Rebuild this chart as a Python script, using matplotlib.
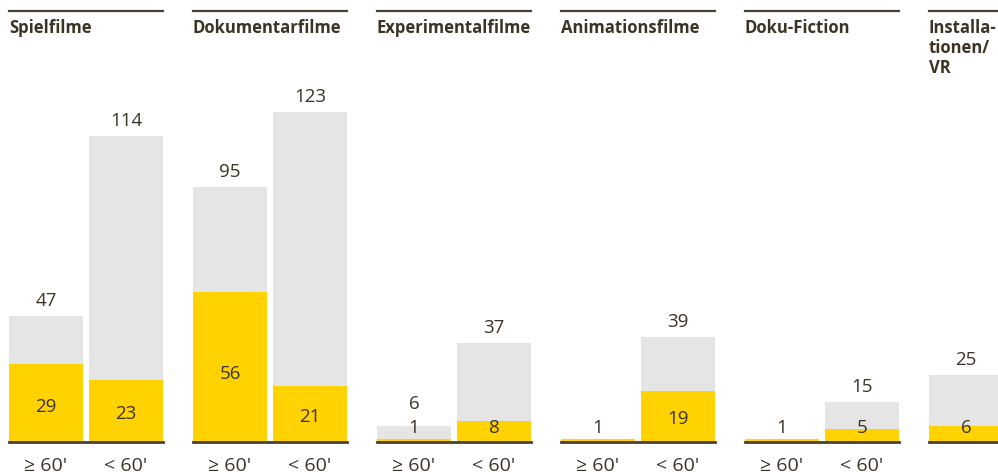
import matplotlib
matplotlib.use("Agg")
import matplotlib.pyplot as plt

categories = ["Spielfilme", "Dokumentarfilme", "Experimentalfilme",
              "Animationsfilme", "Doku-Fiction", "Installa-\ntionen/\nVR"]
tick_labels = ["≥ 60'", "< 60'"]
totals = [[47, 114], [95, 123], [6, 37], [1, 39], [1, 15], [25]]
highlighted = [[29, 23], [56, 21], [1, 8], [1, 19], [1, 5], [6]]

W, H, DPI = 998, 472, 100
GRAY = "#e5e5e5"
YELLOW = "#ffd200"
DARK = "#3b3424"
LINE = "#4a4030"
FONT = ["Open Sans", "DejaVu Sans"]

fig = plt.figure(figsize=(W / DPI, H / DPI), dpi=DPI)

base_px = 442
top_px = 11
ppu = 2.683  # pixels per unit
panel_w = 154
step = 184
ymax = (base_px - top_px) / ppu

for i, cat in enumerate(categories):
    left = 9 + step * i
    ax = fig.add_axes([left / W, (H - base_px) / H, panel_w / W, (base_px - top_px) / H])
    ax.set_xlim(0, 2)
    ax.set_ylim(0, ymax)
    bw = 74 / 77
    xs = [37 / 77, 117 / 77][:len(totals[i])]
    ax.bar(xs, totals[i], width=bw, color=GRAY, zorder=1)
    ax.bar(xs, highlighted[i], width=bw, color=YELLOW, zorder=2)
    for x, t, h in zip(xs, totals[i], highlighted[i]):
        ylab = max(0.45 * h, 14 / ppu)
        ax.text(x, ylab, str(h), ha="center", va="center", fontsize=13.5,
                color=DARK, family=FONT, zorder=3)
        if t != h:
            ytot = max(t + 15 / ppu, ylab + 24 / ppu)
            ax.text(x, ytot, str(t), ha="center", va="center", fontsize=13.5,
                    color=DARK, family=FONT, zorder=3)
    if i < 5:
        for x, lab in zip(xs, tick_labels):
            ax.text(x, -29 / ppu, lab, ha="center", va="baseline", fontsize=14,
                    color=DARK, family=FONT, clip_on=False)
    for k, line in enumerate(cat.split("\n")):
        ax.text(0, ymax - (22 + 20 * k) / ppu, line, ha="left", va="baseline",
                fontsize=12, fontweight="bold", color=DARK, family=FONT)
    for s in ["left", "right"]:
        ax.spines[s].set_visible(False)
    ax.spines["top"].set_color(LINE)
    ax.spines["top"].set_linewidth(1.6)
    ax.spines["bottom"].set_color(LINE)
    ax.spines["bottom"].set_linewidth(2)
    ax.spines["bottom"].set_zorder(5)
    ax.set_xticks([])
    ax.set_yticks([])
    ax.patch.set_visible(False)

fig.savefig("out.png", dpi=DPI)
